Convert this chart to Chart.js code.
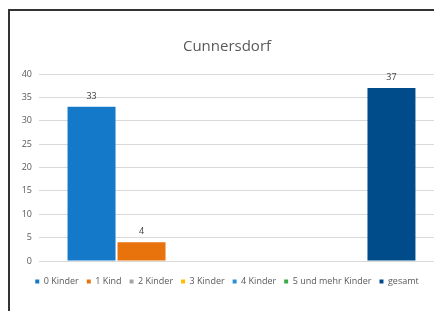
<!DOCTYPE html>
<html>
<head>
<meta charset="utf-8">
<script src="https://cdn.jsdelivr.net/npm/chart.js@4"></script>
<style>
  html, body { margin: 0; padding: 0; background: #fff; overflow: hidden; }
  #frame {
    position: absolute; left: 8px; top: 9px;
    width: 424px; height: 300px; overflow: hidden;
    border-left: 2px solid #333; border-top: 2px solid #333;
  }
  #wrap { position: absolute; left: 0; top: 0; width: 450px; height: 300px; }
</style>
</head>
<body>
<div id="frame"><div id="wrap"><canvas id="myChart"></canvas></div></div>
<script>
// chart data
var categories = ['']
var seriesNames = ['0 Kinder', '1 Kind', '2 Kinder', '3 Kinder', '4 Kinder', '5 und mehr Kinder', 'gesamt']
var seriesValues = [33, 4, null, null, null, null, 37]
var seriesColors = ['#1479C9', '#E8720C', '#A5A5A5', '#FFC000', '#2E8FD8', '#3BAA4A', '#004C8B']
var yTicks = [0, 5, 10, 15, 20, 25, 30, 35, 40]

// small plugin to write the value above each bar
var valueLabels = {
  id: 'valueLabels',
  afterDatasetsDraw(chart) {
    let ctx = chart.ctx
    ctx.save()
    ctx.font = '9px "Open Sans"'
    ctx.fillStyle = '#404040'
    ctx.textAlign = 'center'
    ctx.textBaseline = 'bottom'
    chart.data.datasets.forEach((ds, i) => {
      chart.getDatasetMeta(i).data.forEach((bar, j) => {
        let v = ds.data[j]
        if (v == null) return
        ctx.fillText(v, bar.x, bar.y - 6)
      })
    })
    ctx.restore()
  }
}

let datasets = seriesNames.map((name, i) => ({
  label: name,
  data: [seriesValues[i]],
  backgroundColor: seriesColors[i],
  barPercentage: 0.96,
  categoryPercentage: 0.864
}))

let ctx = document.getElementById('myChart').getContext('2d');
let chart = new Chart(ctx, {
  type: 'bar',
  data: { labels: categories, datasets: datasets },
  plugins: [valueLabels],
  options: {
    responsive: true,
    maintainAspectRatio: false,
    animation: false,
    layout: { padding: { left: 0, right: 16, top: 0, bottom: 15 } },
    plugins: {
      title: {
        display: true,
        text: 'Cunnersdorf',
        color: '#595959',
        font: { family: 'Open Sans', size: 15, weight: 'normal' },
        padding: { top: 27, bottom: 18 }
      },
      legend: {
        position: 'bottom',
        labels: {
          usePointStyle: true,
          pointStyle: 'rect',
          boxWidth: 4,
          boxHeight: 4,
          padding: 8,
          color: '#595959',
          font: { family: 'Open Sans', size: 9 }
        }
      },
      tooltip: { enabled: false }
    },
    scales: {
      x: {
        grid: { display: false },
        border: { display: false },
        ticks: { display: false }
      },
      y: {
        min: 0,
        max: 40,
        afterFit(scale) { scale.width = 29 },
        afterBuildTicks(scale) { scale.ticks = yTicks.map(v => ({ value: v })) },
        grid: { color: '#D9D9D9', drawTicks: false },
        border: { display: false },
        ticks: {
          padding: 7,
          color: '#595959',
          font: { family: 'Open Sans', size: 9 }
        }
      }
    }
  }
});
</script>
</body>
</html>
